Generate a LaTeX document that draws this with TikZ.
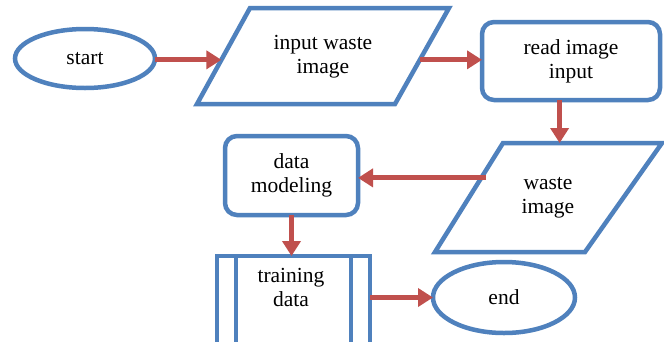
\documentclass[tikz,border=0pt]{standalone}
\usepackage{fontspec}
\setmainfont{Liberation Serif}
\usetikzlibrary{shapes.geometric,arrows.meta,calc}
\definecolor{bl}{RGB}{79,129,189}
\definecolor{rd}{RGB}{192,80,77}
\newcommand{\fs}{\fontsize{21.5pt}{24pt}\selectfont}
\tikzset{
  shp/.style={draw=bl, line width=4.5pt, inner sep=0pt, outer sep=0pt, font=\fs, align=center, text=black},
  shpline/.style={draw=bl, line width=4.5pt, line join=miter},
  term/.style={shp, ellipse},
  proc/.style={shp, rectangle, rounded corners=12pt},
  arr/.style={draw=rd, line width=5pt, -{Triangle[length=15pt,width=18pt]}},
  txt/.style={font=\fs, align=center, inner sep=0pt, text=black}
}
\begin{document}
\begin{tikzpicture}[x=1pt,y=-1pt]
\clip (0,0) rectangle (664,341);
\fill[white] (0,0) rectangle (664,341);
% shapes
\node[term, minimum width=140pt, minimum height=59pt] (start) at (85,58.5) {start};
\coordinate (i1) at (250,8);
\coordinate (i2) at (449,8);
\coordinate (i3) at (395,104);
\coordinate (i4) at (197,104);
\draw[shpline] (i1) -- (i2) -- (i3) -- (i4) -- cycle;
\node[txt] (input) at (323,57) {input waste\\image};
\node[proc, minimum width=178pt, minimum height=78pt] (read) at (571,61) {read image\\input};
\coordinate (w1) at (503,143);
\coordinate (w2) at (662,143);
\coordinate (w3) at (585,252);
\coordinate (w4) at (435,252);
\draw[shpline] (w1) -- (w2) -- (w3) -- (w4) -- cycle;
\node[txt] (waste) at (548,198) {waste\\image};
\node[proc, minimum width=133pt, minimum height=79pt] (dm) at (291.5,175.5) {data\\modeling};
\node[shp, rectangle, minimum width=153pt, minimum height=120pt] (td) at (293.5,316) {};
\draw[shpline] ([xshift=19pt]td.north west) -- ([xshift=19pt]td.south west);
\draw[shpline] ([xshift=-19pt]td.north east) -- ([xshift=-19pt]td.south east);
\node[txt] (tdlab) at (291,287) {training\\data};
\node[term, minimum width=142pt, minimum height=71pt] (end) at (504,297.5) {end};
% connectors
\coordinate (inL) at ($(i1)!0.54!(i4)$);
\coordinate (inR) at ($(i2)!0.54!(i3)$);
\coordinate (wT) at ($(w1)!0.356!(w2)$);
\coordinate (wL) at ($(w1)!0.32!(w4)+(5,0)$);
\draw[arr] (start.east |- inL) -- (inL);
\draw[arr] (inR) -- (inR -| read.west);
\draw[arr] (read.south -| wT) -- (wT);
\draw[arr] (wL) -- (wL -| dm.east);
\draw[arr] (dm.south) -- (dm.south |- td.north);
\draw[arr] (end.west -| td.east) -- (end.west);
\end{tikzpicture}
\end{document}
